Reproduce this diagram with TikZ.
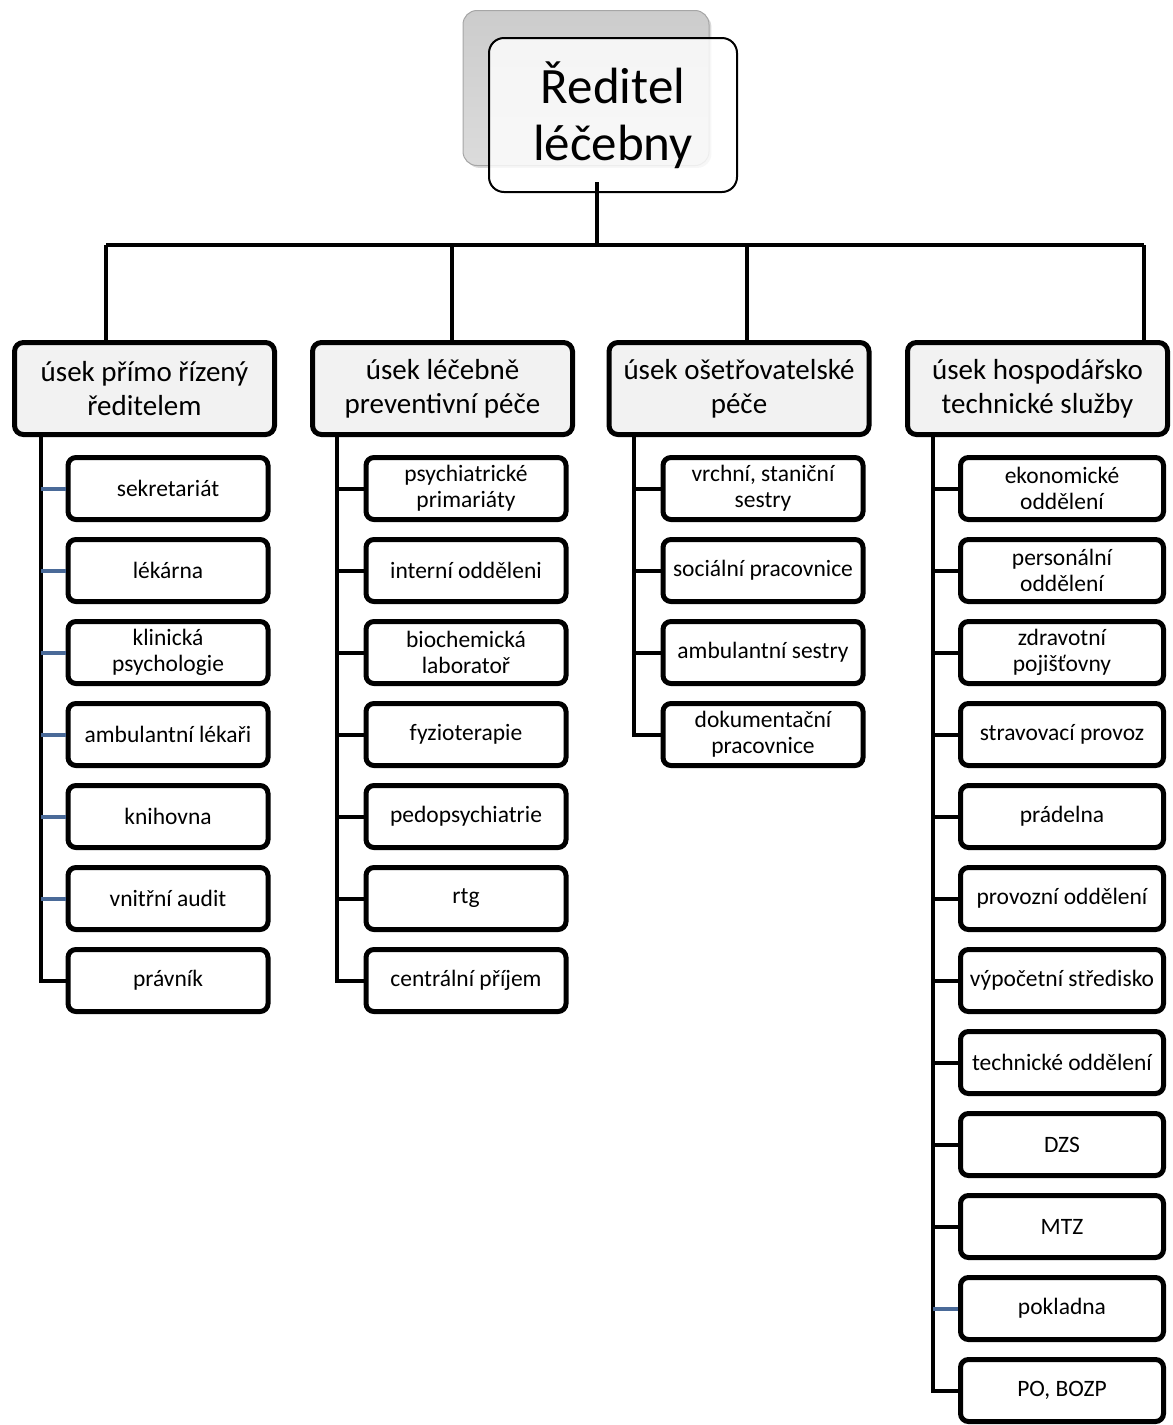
\documentclass[tikz,border=0pt]{standalone}
\usepackage{fontspec}
\setmainfont{Carlito}
\usepackage{tikz}
\usetikzlibrary{shadows}

\definecolor{stubblue}{RGB}{74,106,152}
\definecolor{headgray}{RGB}{242,242,242}

\tikzset{
  headbox/.style={draw, line width=5pt, rounded corners=9pt, fill=headgray,
    minimum width=260pt, minimum height=92pt, align=center,
    font=\fontsize{29}{34}\selectfont},
  unitbox/.style={draw, line width=5pt, rounded corners=8pt, fill=white,
    minimum width=200pt, minimum height=62pt, align=center,
    font=\fontsize{23.5}{26}\selectfont},
  conn/.style={line width=4pt},
  bluestub/.style={line width=4pt, stubblue}
}

\begin{document}
\begin{tikzpicture}[x=1pt,y=-1pt]
\useasboundingbox (0,0) rectangle (1173,1425);

% top box
\node[draw=gray!70, line width=1pt, rounded corners=14pt,
  top color=gray!40, bottom color=gray!28, drop shadow={opacity=0.3},
  minimum width=246pt, minimum height=155pt] (back) at (586,88) {};
\node[draw, line width=2pt, rounded corners=15pt, fill=white, fill opacity=0.8,
  text opacity=1, minimum width=248pt, minimum height=154pt, align=center,
  font=\fontsize{51}{57}\selectfont] (top) at (613,115) {Ředitel\\léčebny};

% bus
\coordinate (stem) at (597,182);
\coordinate (busL) at (106,245);
\coordinate (busR) at (1144,245);
\draw[conn] (stem) -- (stem |- busL);
\draw[conn] (busL) -- (busR);

% headers
\node[headbox] (h1) at (144.5,388.5) {úsek přímo řízený\\ředitelem};
\node[headbox] (h2) at (442.5,388.5) {úsek léčebně\\preventivní péče};
\node[headbox] (h3) at (739,388.5) {úsek ošetřovatelské\\péče};
\node[headbox] (h4) at (1037.5,388.5) {úsek hospodářsko\\technické služby};

\draw[conn] (busL) -- (busL |- h1.north);
\draw[conn] (452,245) -- (452,340);
\draw[conn] (747,245) -- (747,340);
\draw[conn] (busR) -- (busR |- h4.north);

% spines
\coordinate (s1) at (41,437);
\coordinate (s2) at (337,437);
\coordinate (s3) at (634,437);
\coordinate (s4) at (933,437);

% column 1
\foreach \t [count=\i] in {sekretariát, lékárna, klinická\\psychologie,
  ambulantní lékaři, knihovna, vnitřní audit, právník}
  \node[unitbox] (c1-\i) at (168,406.5+82*\i) {\t};
\draw[conn] (s1) |- (c1-7.west);
\foreach \i in {1,...,6}
  \draw[bluestub] (c1-\i.west) -- (c1-\i.west -| s1);

% column 2
\foreach \t [count=\i] in {psychiatrické\\primariáty, interní odděleni,
  biochemická\\laboratoř, fyzioterapie, pedopsychiatrie, rtg, centrální příjem}
  \node[unitbox] (c2-\i) at (466,406.5+82*\i) {\t};
\draw[conn] (s2) |- (c2-7.west);
\foreach \i in {1,...,6}
  \draw[conn] (c2-\i.west) -- (c2-\i.west -| s2);

% column 3
\foreach \t [count=\i] in {{vrchní, staniční\\sestry}, sociální pracovnice,
  ambulantní sestry, dokumentační\\pracovnice}
  \node[unitbox] (c3-\i) at (763,406.5+82*\i) {\t};
\draw[conn] (s3) |- (c3-4.west);
\foreach \i in {1,...,3}
  \draw[conn] (c3-\i.west) -- (c3-\i.west -| s3);

% column 4
\foreach \t [count=\i] in {ekonomické\\oddělení, personální\\oddělení,
  zdravotní\\pojišťovny, stravovací provoz, prádelna, provozní oddělení,
  výpočetní středisko, technické oddělení, DZS, MTZ, pokladna, {PO, BOZP}}
  \node[unitbox, minimum width=203pt] (c4-\i) at (1062,406.5+82*\i) {\t};
\draw[conn] (s4) |- (c4-12.west);
\foreach \i in {1,...,10}
  \draw[conn] (c4-\i.west) -- (c4-\i.west -| s4);
\draw[bluestub] (c4-11.west) -- (c4-11.west -| s4);
\end{tikzpicture}
\end{document}
